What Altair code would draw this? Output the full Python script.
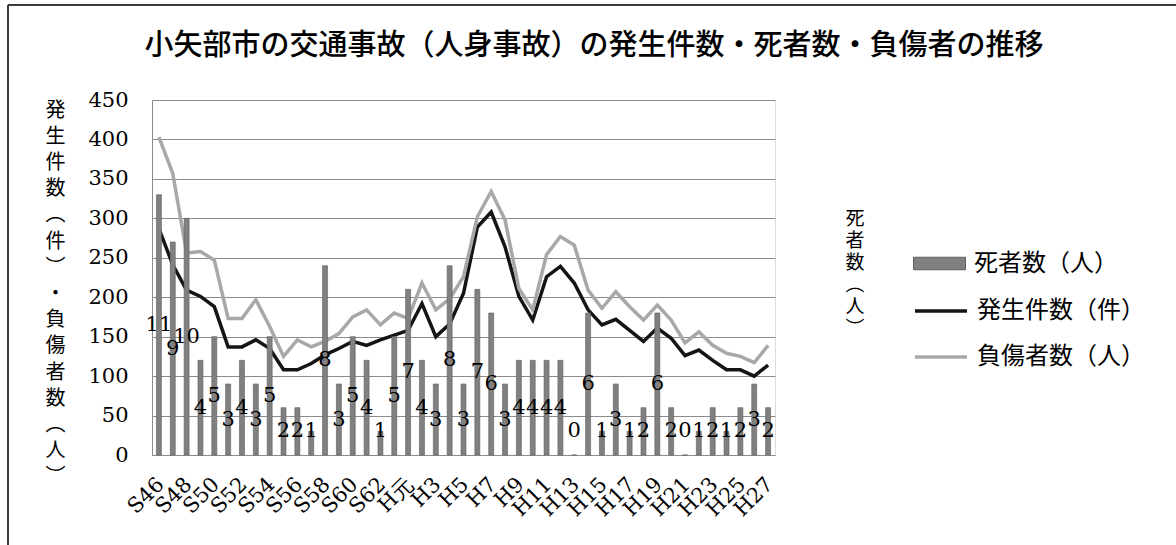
import altair as alt
import pandas as pd

years = ["S46", "S47", "S48", "S49", "S50", "S51", "S52", "S53", "S54", "S55",
         "S56", "S57", "S58", "S59", "S60", "S61", "S62", "S63", "H元", "H2",
         "H3", "H4", "H5", "H6", "H7", "H8", "H9", "H10", "H11", "H12",
         "H13", "H14", "H15", "H16", "H17", "H18", "H19", "H20", "H21", "H22",
         "H23", "H24", "H25", "H26", "H27"]
deaths = [11, 9, 10, 4, 5, 3, 4, 3, 5, 2,
          2, 1, 8, 3, 5, 4, 1, 5, 7, 4,
          3, 8, 3, 7, 6, 3, 4, 4, 4, 4,
          0, 6, 1, 3, 1, 2, 6, 2, 0, 1,
          2, 1, 2, 3, 2]
accidents = [287, 241, 209, 201, 188, 137, 137, 146, 135, 108,
             108, 116, 127, 135, 144, 139, 146, 152, 158, 192,
             150, 166, 205, 289, 308, 264, 201, 171, 226, 239,
             218, 184, 165, 172, 158, 144, 161, 148, 126, 133,
             120, 108, 108, 100, 114]
injured = [403, 357, 256, 258, 247, 173, 173, 197, 163, 125,
           146, 137, 144, 154, 175, 184, 165, 180, 173, 218,
           184, 198, 226, 302, 334, 298, 211, 184, 254, 277,
           266, 209, 186, 207, 188, 171, 190, 171, 142, 156,
           139, 129, 125, 117, 139]

chart_title = "小矢部市の交通事故（人身事故）の発生件数・死者数・負傷者の推移"
bar_name = "死者数（人）"
line_names = ["発生件数（件）", "負傷者数（人）"]
bar_color = "#808080"
line_colors = ["#141414", "#a8a8a8"]
left_ticks = [0, 50, 100, 150, 200, 250, 300, 350, 400, 450]
right_ticks = [0, 2, 4, 6, 8, 10, 12, 14]
x_label_values = years[::2]

left_title = ["発", "生", "件", "数", "︵", "件", "︶", "・", "負", "傷", "者", "数", "︵", "人", "︶"]
right_title = ["死", "者", "数", "︵", "人", "︶"]

bar_df = pd.DataFrame({"year": years, "value": deaths, "series": bar_name})
line_df = pd.concat([
    pd.DataFrame({"year": years, "value": accidents, "series": line_names[0]}),
    pd.DataFrame({"year": years, "value": injured, "series": line_names[1]}),
])

SERIF = "DejaVu Serif"
JP = "Noto Sans CJK JP"

x_enc = alt.X(
    "year:N", sort=years, title=None,
    scale=alt.Scale(paddingInner=0, paddingOuter=0),
    axis=alt.Axis(values=x_label_values, labelAngle=-45, labelAlign="right",
                  labelBaseline="middle", labelFont=SERIF, labelFontSize=21,
                  labelColor="black", labelPadding=26, labelOffset=2,
                  ticks=False, domainColor="#8c8c8c", grid=False),
)

legend_common = dict(title=None, orient="none", padding=0,
                     labelFont=JP, labelFontSize=24, labelColor="black",
                     labelOffset=8, symbolSize=2704, labelLimit=400)

fill_enc = alt.Fill("series:N", scale=alt.Scale(domain=[bar_name], range=[bar_color]),
                    legend=alt.Legend(legendX=761, legendY=137,
                                      symbolType="M-1,-0.24H1V0.24H-1Z",
                                      symbolStrokeColor="#5e5e5e", symbolStrokeWidth=1,
                                      **legend_common))
stroke_enc = alt.Stroke("series:N", scale=alt.Scale(domain=line_names, range=line_colors),
                        legend=alt.Legend(legendX=761, legendY=183, symbolType="stroke",
                                          symbolStrokeWidth=3.5, rowPadding=6,
                                          **legend_common))

right_scale = alt.Scale(domain=[0, 15], nice=False)

bars = alt.Chart(bar_df).mark_bar(width=5, stroke="#5e5e5e", strokeWidth=0.6).encode(
    x=x_enc,
    y=alt.Y("value:Q", scale=right_scale,
            axis=alt.Axis(orient="right", values=right_ticks, grid=False,
                          ticks=True, tickSize=6, tickColor="#8c8c8c",
                          domainColor="#8c8c8c", labelFont=SERIF, labelFontSize=21,
                          labelColor="black", labelAlign="left", labelPadding=20,
                          title=None)),
    fill=fill_enc,
)

labels = alt.Chart(bar_df).transform_calculate(
    mid="max(datum.value / 2, 1)"
).mark_text(font=SERIF, fontSize=21, color="black", baseline="middle", align="center").encode(
    x=alt.X("year:N", sort=years),
    y=alt.Y("mid:Q", scale=right_scale, axis=None),
    text=alt.Text("value:Q"),
)

text_df = pd.DataFrame({"title": [chart_title], "rt": ["\n".join(right_title)]})

right_title_text = alt.Chart(text_df).mark_text(
    font=JP, fontSize=19, color="black", align="center", baseline="top",
    lineBreak="\n", lineHeight=22,
).encode(x=alt.value(703), y=alt.value(110), text="rt:N")

title_text = alt.Chart(text_df).mark_text(
    font=JP, fontSize=29, fontWeight=500, color="black", align="center", baseline="middle",
).encode(x=alt.value(442), y=alt.value(-54), text="title:N")

frame_df = pd.DataFrame({"a": [0]})
frame_left = alt.Chart(frame_df).mark_rule(color="#3c3c3c", strokeWidth=2).encode(
    x=alt.value(-144), y=alt.value(-95), y2=alt.value(445))
frame_top = alt.Chart(frame_df).mark_rule(color="#3c3c3c", strokeWidth=2).encode(
    x=alt.value(-144), x2=alt.value(1024), y=alt.value(-95))

lines = alt.Chart(line_df).mark_line(strokeWidth=3.5).encode(
    x=x_enc,
    y=alt.Y("value:Q", scale=alt.Scale(domain=[0, 450], nice=False),
            axis=alt.Axis(orient="left", values=left_ticks, grid=True,
                          gridColor="#8c8c8c", gridWidth=1, ticks=False,
                          domainColor="#8c8c8c", labelFont=SERIF, labelFontSize=21,
                          labelColor="black", labelPadding=24,
                          title=left_title, titleAngle=0, titleX=-97, titleY=0,
                          titleAlign="center", titleBaseline="top",
                          titleFont=JP, titleFontSize=20, titleFontWeight="normal",
                          titleLineHeight=26.2, titleColor="black")),
    stroke=stroke_enc,
)

chart = alt.layer(
    lines,
    alt.layer(bars, labels),
    right_title_text,
    title_text,
    frame_left,
    frame_top,
).resolve_scale(y="independent").properties(
    width=623, height=355,
    padding={"left": 152, "top": 100, "right": 401, "bottom": 90},
    autosize=alt.AutoSizeParams(type="none"),
).configure_view(stroke=None).configure(background="white")

chart.save("out.html", embed_options={"renderer": "svg", "actions": False})
